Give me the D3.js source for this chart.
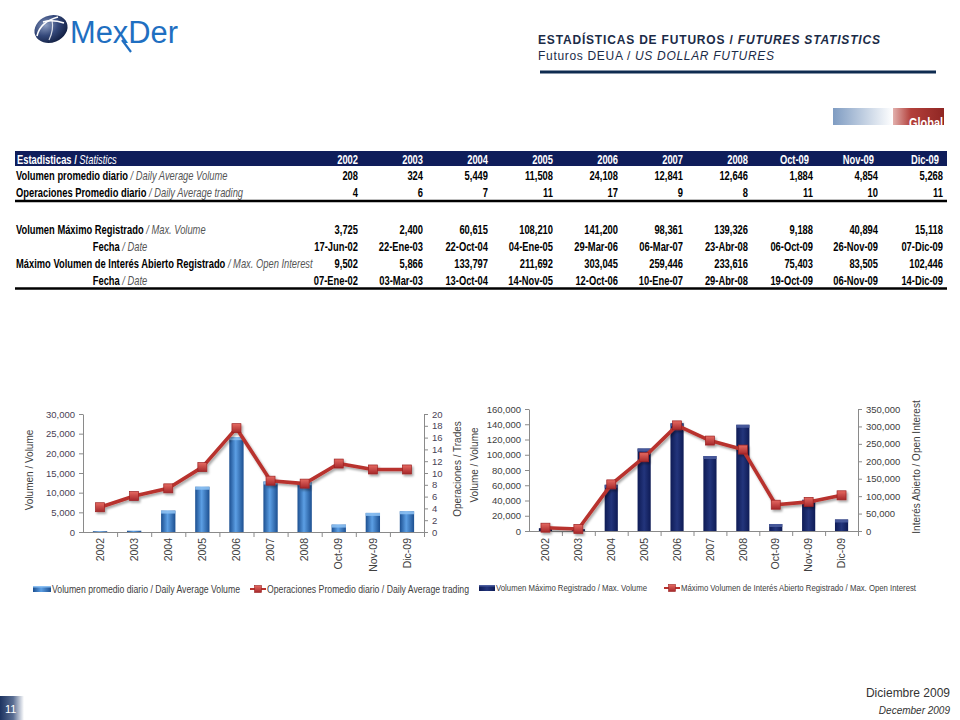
<!DOCTYPE html>
<html><head><meta charset="utf-8">
<script src="https://cdn.jsdelivr.net/npm/d3@7/dist/d3.min.js"></script>
<style>html,body{margin:0;padding:0;background:#fff;}svg{display:block;}</style>
</head><body>
<svg id="c" width="960" height="720"></svg>
<script>
// ---------- DATA ----------
const categories = ['2002','2003','2004','2005','2006','2007','2008','Oct-09','Nov-09','Dic-09'];
const dailyAvgVolume = [208,324,5449,11508,24108,12841,12646,1884,4854,5268];
const dailyAvgTrading = [4,6,7,11,17,9,8,11,10,11];
const dailyAvgTradingPlotted = [4.2,6.1,7.4,11.0,17.6,8.7,8.2,11.6,10.6,10.6];
const maxVolume = [3725,2400,60615,108210,141200,98361,139326,9188,40894,15118];
const maxVolumeDate = ['17-Jun-02','22-Ene-03','22-Oct-04','04-Ene-05','29-Mar-06','06-Mar-07','23-Abr-08','06-Oct-09','26-Nov-09','07-Dic-09'];
const maxOpenInterest = [9502,5866,133797,211692,303045,259446,233616,75403,83505,102446];
const maxOpenInterestDate = ['07-Ene-02','03-Mar-03','13-Oct-04','14-Nov-05','12-Oct-06','10-Ene-07','29-Abr-08','19-Oct-09','06-Nov-09','14-Dic-09'];
const volumeTicks = [0,5000,10000,15000,20000,25000,30000];
const tradesTicks = [0,2,4,6,8,10,12,14,16,18,20];
const maxVolumeTicks = [0,20000,40000,60000,80000,100000,120000,140000,160000];
const openInterestTicks = [0,50000,100000,150000,200000,250000,300000,350000];

const svg = d3.select('#c');
const FONT = "'Liberation Sans', Arial, sans-serif";
const defs = svg.append('defs');

function lg(id, stops, x2=1, y2=0){
  const g = defs.append('linearGradient').attr('id', id).attr('x1',0).attr('y1',0).attr('x2',x2).attr('y2',y2);
  stops.forEach(s=>g.append('stop').attr('offset',s[0]).attr('stop-color',s[1]).attr('stop-opacity', s[2]===undefined?1:s[2]));
}
lg('barBlue', [[0,'#1c4f90'],[0.45,'#5c9fe4'],[1,'#1c4f90']]);
lg('barNavy', [[0,'#0e1b55'],[0.5,'#23357c'],[1,'#0e1b55']]);
lg('marker', [[0,'#e66a62'],[1,'#a5272a']], 0, 1);
lg('globalBlue', [[0,'#7f9cc2'],[1,'#ffffff']]);
lg('globalRed', [[0,'#e2b0ad'],[0.35,'#b3403b'],[1,'#8f2623']]);
lg('pageBox', [[0,'#1d3360'],[0.55,'#5a6e93'],[1,'#ffffff']]);
const rg = defs.append('radialGradient').attr('id','logoG').attr('cx','40%').attr('cy','30%').attr('r','75%');
rg.append('stop').attr('offset',0).attr('stop-color','#8b9cc0');
rg.append('stop').attr('offset',0.5).attr('stop-color','#34487a');
rg.append('stop').attr('offset',1).attr('stop-color','#0f1c3e');
const f = defs.append('filter').attr('id','shadow').attr('x','-10%').attr('y','-10%').attr('width','130%').attr('height','140%');
f.append('feDropShadow').attr('dx',1.5).attr('dy',2).attr('stdDeviation',1.3).attr('flood-color','#000').attr('flood-opacity',0.35);

// ---------- HEADER ----------
const logo = svg.append('g');
logo.append('ellipse').attr('cx',51).attr('cy',29).attr('rx',17).attr('ry',13.5)
  .attr('transform','rotate(-22,51,29)').attr('fill','url(#logoG)');
logo.append('path').attr('d','M37,36 Q40,22 58,17').attr('fill','none').attr('stroke','#fff').attr('stroke-width',1.6);
logo.append('path').attr('d','M43,22 Q52,19 64,23').attr('fill','none').attr('stroke','#fff').attr('stroke-width',1.4);
logo.append('path').attr('d','M52,20 Q54,30 49,40').attr('fill','none').attr('stroke','#fff').attr('stroke-width',1.2).attr('opacity',0.8);
svg.append('text').attr('x',70).attr('y',43).attr('font-family',FONT).attr('font-size',31)
  .attr('fill','#1f6fc1').attr('textLength',108).attr('lengthAdjust','spacingAndGlyphs').text('MexDer');
svg.append('path').attr('d','M122,40 L131,52').attr('stroke','#1f6fc1').attr('stroke-width',2.2);

const t1 = svg.append('text').attr('x',538).attr('y',44).attr('font-family',FONT).attr('font-size',12)
  .attr('font-weight','bold').attr('fill','#1b2b47').attr('textLength',342).attr('lengthAdjust','spacing');
t1.append('tspan').text('ESTADÍSTICAS DE FUTUROS  / ');
t1.append('tspan').attr('font-style','italic').text('FUTURES STATISTICS');
const t2 = svg.append('text').attr('x',538).attr('y',60).attr('font-family',FONT).attr('font-size',12)
  .attr('fill','#1b2b47').attr('textLength',236).attr('lengthAdjust','spacing');
t2.append('tspan').text('Futuros DEUA / ');
t2.append('tspan').attr('font-style','italic').text('US DOLLAR FUTURES');
svg.append('line').attr('x1',540).attr('x2',936).attr('y1',72).attr('y2',72).attr('stroke','#0e2b50').attr('stroke-width',3);

// Global badge
svg.append('rect').attr('x',833).attr('y',108).attr('width',60).attr('height',17).attr('fill','url(#globalBlue)');
svg.append('rect').attr('x',893).attr('y',108).attr('width',51).attr('height',17).attr('fill','url(#globalRed)');
defs.append('clipPath').attr('id','gclip').append('rect').attr('x',893).attr('y',108).attr('width',51).attr('height',17);
svg.append('text').attr('x',943).attr('y',128).attr('text-anchor','end').attr('font-family',FONT).attr('font-weight','bold')
  .attr('font-size',14).attr('fill','#fff').attr('clip-path','url(#gclip)').attr('textLength',34).attr('lengthAdjust','spacingAndGlyphs').text('Global');

// ---------- TABLE ----------
const tbl = svg.append('g');
const colX = d3.scalePoint().domain(categories).range([358, 943]);
const SX = 0.72;
function ntext(x, y, anchor, parts, opts={}){
  const t = tbl.append('text').attr('transform',`translate(${x},${y}) scale(${SX},1)`)
    .attr('text-anchor',anchor).attr('font-family',FONT).attr('font-size',opts.size||13).attr('fill',opts.fill||'#000');
  parts.forEach(p=>{
    t.append('tspan').attr('font-weight',p.b?'bold':'normal').attr('font-style',p.i?'italic':'normal')
      .attr('fill',p.c||null).text(p.t);
  });
  return t;
}
tbl.append('rect').attr('x',15).attr('y',151).attr('width',932).attr('height',15).attr('fill','#0f1d5a');
ntext(17,163.5,'start',[{t:'Estadisticas / ',b:1},{t:'Statistics',i:1}],{fill:'#fff'});
categories.forEach((c,i)=>{
  const dx = i>=7 ? -4 : 0;
  ntext(colX(c)+dx,163.5,'end',[{t:c,b:1}],{fill:'#fff'});
});
const fmt = d3.format(',');
const rows = [
  {y:180, label:[{t:'Volumen promedio diario ',b:1},{t:'/ Daily Average Volume',i:1,c:'#555'}], anchor:'start', lx:16, vals:dailyAvgVolume.map(fmt)},
  {y:197, label:[{t:'Operaciones Promedio diario ',b:1},{t:'/ Daily Average trading',i:1,c:'#555'}], anchor:'start', lx:16, vals:dailyAvgTrading.map(fmt)},
  {y:234, label:[{t:'Volumen Máximo Registrado ',b:1},{t:'/ Max. Volume',i:1,c:'#555'}], anchor:'start', lx:16, vals:maxVolume.map(fmt)},
  {y:251, label:[{t:'Fecha ',b:1},{t:'/ Date',i:1,c:'#555'}], anchor:'middle', lx:120, vals:maxVolumeDate},
  {y:268, label:[{t:'Máximo Volumen de Interés Abierto Registrado ',b:1},{t:'/ Max. Open Interest',i:1,c:'#555'}], anchor:'start', lx:16, vals:maxOpenInterest.map(fmt)},
  {y:285, label:[{t:'Fecha ',b:1},{t:'/ Date',i:1,c:'#555'}], anchor:'middle', lx:120, vals:maxOpenInterestDate}
];
rows.forEach(r=>{
  ntext(r.lx, r.y, r.anchor, r.label);
  r.vals.forEach((v,i)=>ntext(colX(categories[i]), r.y, 'end', [{t:v,b:1}]));
});
tbl.append('line').attr('x1',15).attr('x2',947).attr('y1',201).attr('y2',201).attr('stroke','#000').attr('stroke-width',2.5);
tbl.append('line').attr('x1',15).attr('x2',947).attr('y1',288.5).attr('y2',288.5).attr('stroke','#000').attr('stroke-width',2.5);

// ---------- CHARTS ----------
function combo(o){
  const g = svg.append('g');
  const x = d3.scaleBand().domain(categories).range([o.x0, o.x1]);
  const yL = d3.scaleLinear().domain([0, d3.max(o.lTicks)]).range([o.yB, o.yT]);
  const yR = d3.scaleLinear().domain([0, d3.max(o.rTicks)]).range([o.yB, o.yT]);
  const axisCol = '#8a8a8a', txtCol = '#404040';
  const aL = g.append('g').attr('transform',`translate(${o.x0},0)`)
    .call(d3.axisLeft(yL).tickValues(o.lTicks).tickFormat(fmt).tickSize(4).tickSizeOuter(0).tickPadding(4));
  const aR = g.append('g').attr('transform',`translate(${o.x1},0)`)
    .call(d3.axisRight(yR).tickValues(o.rTicks).tickFormat(fmt).tickSize(4).tickSizeOuter(0).tickPadding(4));
  [aL,aR].forEach(a=>{
    a.select('.domain').attr('stroke',axisCol);
    a.selectAll('.tick line').attr('stroke',axisCol);
    a.selectAll('.tick text').attr('fill',o.tickCol).attr('font-family',FONT).attr('font-size',o.tickSize);
  });
  // bars
  const bw = x.bandwidth()*o.barFrac;
  const bars = g.append('g');
  categories.forEach((c,i)=>{
    const v = o.bars[i];
    const bx = x(c) + (x.bandwidth()-bw)/2, by = yL(v), bh = o.yB - yL(v);
    bars.append('rect').attr('x',bx).attr('y',by).attr('width',bw).attr('height',bh).attr('fill',o.barFill);
    if (bh > 3) bars.append('rect').attr('x',bx).attr('y',by).attr('width',bw).attr('height',Math.min(3,bh)).attr('fill',o.capFill).attr('opacity',0.9);
  });
  // x axis
  g.append('line').attr('x1',o.x0).attr('x2',o.x1).attr('y1',o.yB+0.5).attr('y2',o.yB+0.5).attr('stroke',axisCol);
  categories.forEach((c,i)=>{
    if (i>0) g.append('line').attr('x1',x(c)+0.5).attr('x2',x(c)+0.5).attr('y1',o.yB).attr('y2',o.yB+5).attr('stroke',axisCol);
    g.append('text').attr('transform',`translate(${x(c)+x.bandwidth()/2},${o.yB+o.labOff}) rotate(-90)`)
      .attr('text-anchor','end').attr('dy','0.35em').attr('font-family',FONT).attr('font-size',10.5).attr('fill',txtCol).text(c);
  });
  g.append('line').attr('x1',o.x1+0.5).attr('x2',o.x1+0.5).attr('y1',o.yB).attr('y2',o.yB+5).attr('stroke',axisCol);
  // line
  const pts = o.line.map((v,i)=>[x(categories[i])+x.bandwidth()/2, yR(v)]);
  const lg2 = g.append('g').attr('filter','url(#shadow)');
  lg2.append('path').attr('d', d3.line()(pts)).attr('fill','none').attr('stroke','#b8322d').attr('stroke-width',3.6).attr('stroke-linejoin','round');
  pts.forEach(p=>{
    lg2.append('rect').attr('x',p[0]-4.5).attr('y',p[1]-4.5).attr('width',9).attr('height',9)
      .attr('fill','url(#marker)').attr('stroke','#9c2222').attr('stroke-width',0.7);
  });
  // axis titles
  o.titles.forEach(t=>{
    g.append('text').attr('transform',`translate(${t.x},${t.y}) rotate(-90)`).attr('text-anchor','middle')
      .attr('font-family',FONT).attr('font-size',10).attr('fill',txtCol).text(t.text);
  });
  // legend
  const L = o.legend;
  g.append('rect').attr('x',L.bx).attr('y',L.y-3).attr('width',L.bw).attr('height',6).attr('fill',o.barFill);
  g.append('rect').attr('x',L.bx).attr('y',L.y-3).attr('width',L.bw).attr('height',1.5).attr('fill',o.capFill);
  g.append('text').attr('x',L.t1x).attr('y',L.y).attr('dy','0.35em').attr('font-family',FONT).attr('font-size',L.fs)
    .attr('fill',txtCol).attr('textLength',L.t1w).attr('lengthAdjust','spacingAndGlyphs').text(L.t1);
  g.append('line').attr('x1',L.lx).attr('x2',L.lx+16).attr('y1',L.y).attr('y2',L.y).attr('stroke','#b8322d').attr('stroke-width',2);
  g.append('rect').attr('x',L.lx+4.5).attr('y',L.y-3.5).attr('width',7).attr('height',7).attr('fill','url(#marker)').attr('stroke','#9c2222').attr('stroke-width',0.6);
  g.append('text').attr('x',L.t2x).attr('y',L.y).attr('dy','0.35em').attr('font-family',FONT).attr('font-size',L.fs)
    .attr('fill',txtCol).attr('textLength',L.t2w).attr('lengthAdjust','spacingAndGlyphs').text(L.t2);
}

combo({x0:83, x1:424, yT:414, yB:532, lTicks:volumeTicks, rTicks:tradesTicks, tickSize:9.5, tickCol:'#4a3f55',
  bars:dailyAvgVolume, line:dailyAvgTradingPlotted, barFrac:0.42, barFill:'url(#barBlue)', capFill:'#8cc0f2', labOff:6,
  titles:[{x:33,y:470,text:'Volumen / Volume'},{x:461,y:469,text:'Operaciones / Trades'},{x:478,y:465,text:'Volume / Volume'}],
  legend:{y:589, fs:10, bx:33, bw:18, t1x:52, t1w:188, t1:'Volumen promedio diario / Daily Average Volume',
          lx:250, t2x:267, t2w:202, t2:'Operaciones Promedio diario / Daily Average trading'}});

combo({x0:529, x1:858, yT:409, yB:531, lTicks:maxVolumeTicks, rTicks:openInterestTicks, tickSize:9.5, tickCol:'#404040',
  bars:maxVolume, line:maxOpenInterest, barFrac:0.4, barFill:'url(#barNavy)', capFill:'#4b5d9e', labOff:7,
  titles:[{x:920,y:467,text:'Interés Abierto / Open Interest'}],
  legend:{y:588, fs:9, bx:479, bw:16, t1x:496, t1w:151, t1:'Volumen Máximo Registrado / Max. Volume',
          lx:664, t2x:681, t2w:235, t2:'Máximo Volumen de Interés Abierto Registrado / Max. Open Interest'}});

// ---------- FOOTER ----------
svg.append('text').attr('x',950).attr('y',697).attr('text-anchor','end').attr('font-family',FONT).attr('font-size',12).attr('fill','#333').text('Diciembre 2009');
svg.append('text').attr('x',950).attr('y',714).attr('text-anchor','end').attr('font-family',FONT).attr('font-size',10).attr('font-style','italic').attr('fill','#333').text('December 2009');
svg.append('rect').attr('x',0).attr('y',696).attr('width',24).attr('height',24).attr('fill','url(#pageBox)');
svg.append('text').attr('x',5).attr('y',713).attr('font-family',FONT).attr('font-size',11).attr('fill','#fff').text('11');
</script>
</body></html>
